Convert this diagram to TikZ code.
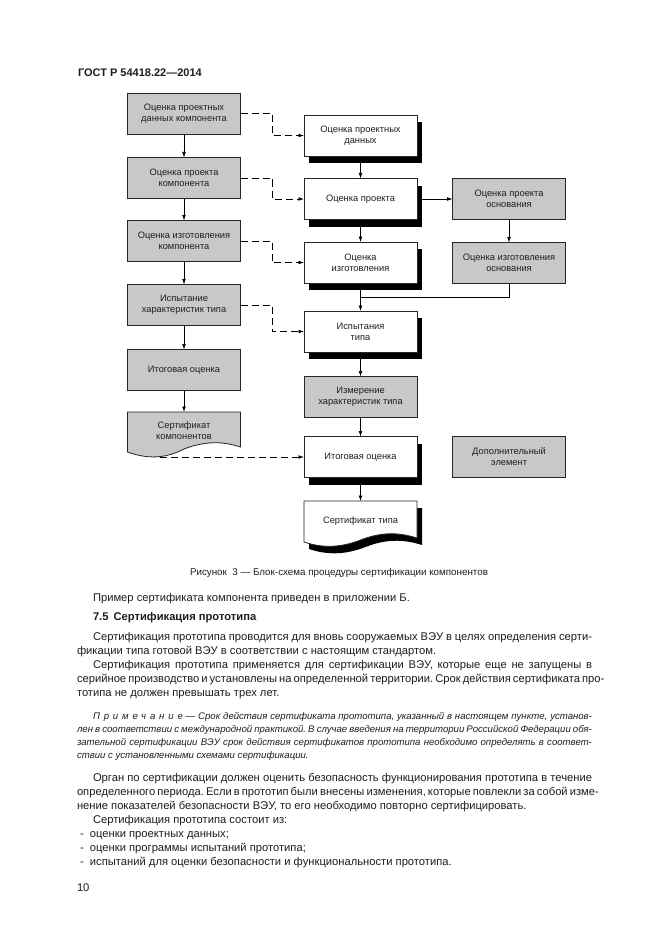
\documentclass[tikz,border=0pt]{standalone}
\usepackage{fontspec}
\setmainfont{Liberation Sans}
\usetikzlibrary{arrows.meta,shadows}
\definecolor{boxgray}{RGB}{200,200,200}
\definecolor{ink}{RGB}{30,30,30}
\frenchspacing
\newcommand{\jus}[2]{\makebox[#1pt][s]{#2}}
\newcommand{\bodyf}{\fontsize{11.2}{14}\selectfont}
\newcommand{\notef}{\fontsize{9.6}{13}\selectfont\itshape}
\begin{document}
\frenchspacing
\begin{tikzpicture}[x=1pt,y=-1pt,
  every node/.style={inner sep=0pt,outer sep=0pt,text=ink},
  box/.style={draw=black!85,line width=0.8pt,minimum width=113pt,minimum height=41pt,align=center,font=\fontsize{9.3}{11}\selectfont},
  gbox/.style={box,fill=boxgray},
  wbox/.style={box,fill=white,drop shadow={shadow xshift=5pt,shadow yshift=-7pt,opacity=1,fill=black}},
  arr/.style={-{Latex[length=5.5pt,width=3.8pt]},line width=0.7pt,draw=black},
  darr/.style={arr,dash pattern=on 7pt off 4pt},
  txt/.style={anchor=base west,font=\bodyf},
  ntxt/.style={anchor=base west,font=\notef}]
\useasboundingbox (0,0) rectangle (661,936);
\fill[white] (0,0) rectangle (661,936);

% header
\node[anchor=base west,font=\bfseries\fontsize{11}{13}\selectfont] (hdr) at (78,77) {ГОСТ Р 54418.22—2014};

% left column
\node[gbox] (L1) at (184,113.5) {Оценка проектных\\данных компонента};
\node[gbox] (L2) at (184,178) {Оценка проекта\\компонента};
\node[gbox] (L3) at (184,241) {Оценка изготовления\\компонента};
\node[gbox] (L4) at (184,305) {Испытание\\характеристик типа};
\node[gbox] (L5) at (184,370) {Итоговая оценка};
\filldraw[fill=boxgray,draw=black!85,line width=0.8pt] (127.5,412) -- (240.5,412) -- (240.5,447)
  .. controls (222,441) and (205,441) .. (184,449)
  .. controls (165,459) and (147,459) .. (127.5,452) -- cycle;
\node[align=center,font=\fontsize{9.3}{11}\selectfont] (L6) at (184,431) {Сертификат\\компонентов};
\coordinate (L6out) at (160,457);

% middle column
\node[wbox] (R1) at (360.5,135.5) {Оценка проектных\\данных};
\node[wbox] (R2) at (360.5,199) {Оценка проекта};
\node[wbox] (R3) at (360.5,262.5) {Оценка\\изготовления};
\node[wbox] (R4) at (360.5,331.5) {Испытания\\типа};
\node[gbox] (R5) at (360.5,397) {Измерение\\характеристик типа};
\node[wbox] (R6) at (360.5,457) {Итоговая оценка};
\fill[black,shift={(5,7)}] (304,501) -- (417,501) -- (417,538)
  .. controls (398,532) and (381,532) .. (360.5,540)
  .. controls (340,548) and (322,548) .. (304,542) -- cycle;
\filldraw[fill=white,draw=black!85,line width=0.8pt] (304,501) -- (417,501) -- (417,538)
  .. controls (398,532) and (381,532) .. (360.5,540)
  .. controls (340,548) and (322,548) .. (304,542) -- cycle;
\node[font=\fontsize{9.3}{11}\selectfont] (R7) at (360.5,521) {Сертификат типа};
\coordinate (R7top) at (360.5,501);

% right column
\node[gbox] (D1) at (509,199) {Оценка проекта\\основания};
\node[gbox] (D2) at (509,263) {Оценка изготовления\\основания};
\node[gbox] (D3) at (509,457) {Дополнительный\\элемент};

% connectors left
\draw[arr] (L1) -- (L2);
\draw[arr] (L2) -- (L3);
\draw[arr] (L3) -- (L4);
\draw[arr] (L4) -- (L5);
\draw[arr] (L5) -- (184,412);

% connectors middle
\draw[arr] ([yshift=-7pt]R1.south) -- (R2.north);
\draw[arr] ([yshift=-7pt]R2.south) -- (R3.north);
\draw[arr] ([yshift=-7pt]R3.south) -- (R4.north);
\draw[arr] ([yshift=-7pt]R4.south) -- (R5.north);
\draw[arr] (R5.south) -- (R6.north);
\draw[arr] ([yshift=-7pt]R6.south) -- (R7top);

% connectors right
\draw[arr] ([xshift=5pt]R2.east) -- (D1.west);
\draw[arr] (D1) -- (D2);
\coordinate (J) at (360.5,297);
\draw[line width=0.7pt] (D2.south) |- (J);

% dashed
\coordinate (K) at (272,0);
\draw[darr] (L1.east) -- (L1.east -| K) |- (R1.west);
\draw[darr] (L2.east) -- (L2.east -| K) |- (R2.west);
\draw[darr] (L3.east) -- (L3.east -| K) |- (R3.west);
\draw[darr] (L4.east) -- (L4.east -| K) |- (R4.west);
\draw[darr] (L6out) -- (R6.west);

% caption
\node[anchor=base west,font=\fontsize{9.8}{12}\selectfont] (cap) at (190,575) {Рисунок\ \ 3 — Блок-схема процедуры сертификации компонентов};

% body text
\node[txt] (t01) at (93,601) {Пример сертификата компонента приведен в приложении Б.};
\node[txt,font=\bodyf\bfseries] (t02) at (93,620) {7.5\hspace{5pt}Сертификация прототипа};
\node[txt] (t03) at (93,640) {\jus{499}{Сертификация прототипа проводится для вновь сооружаемых ВЭУ в целях определения серти-}};
\node[txt] (t04) at (77,654) {фикации типа готовой ВЭУ в соответствии с настоящим стандартом.};
\node[txt] (t05) at (93,668) {\jus{499}{Сертификация прототипа применяется для сертификации ВЭУ, которые еще не запущены в}};
\node[txt] (t06) at (77,682) {\jus{515}{серийное производство и установлены на определенной территории. Срок действия сертификата про-}};
\node[txt] (t07) at (77,696) {тотипа не должен превышать трех лет.};

\node[ntxt] (t08) at (93,719) {\jus{499}{{\addfontfeatures{LetterSpace=40}Примечание}\ — Срок действия сертификата прототипа, указанный в настоящем пункте, установ-}};
\node[ntxt] (t09) at (77,732) {\jus{515}{лен в соответствии с международной практикой. В случае введения на территории Российской Федерации обя-}};
\node[ntxt] (t10) at (77,745) {\jus{515}{зательной сертификации ВЭУ срок действия сертификатов прототипа необходимо определять в соответ-}};
\node[ntxt] (t11) at (77,758) {ствии с установленными схемами сертификации.};

\node[txt] (t12) at (93,781) {\jus{499}{Орган по сертификации должен оценить безопасность функционирования прототипа в течение}};
\node[txt] (t13) at (77,795) {\jus{515}{определенного периода. Если в прототип были внесены изменения, которые повлекли за собой изме-}};
\node[txt] (t14) at (77,809) {нение показателей безопасности ВЭУ, то его необходимо повторно сертифицировать.};
\node[txt] (t15) at (93,823) {Сертификация прототипа состоит из:};
\node[txt] (t16) at (80,837) {-\ \ оценки проектных данных;};
\node[txt] (t17) at (80,851) {-\ \ оценки программы испытаний прототипа;};
\node[txt] (t18) at (80,865) {-\ \ испытаний для оценки безопасности и функциональности прототипа.};
\node[txt] (t19) at (77,891) {10};
\end{tikzpicture}
\end{document}
